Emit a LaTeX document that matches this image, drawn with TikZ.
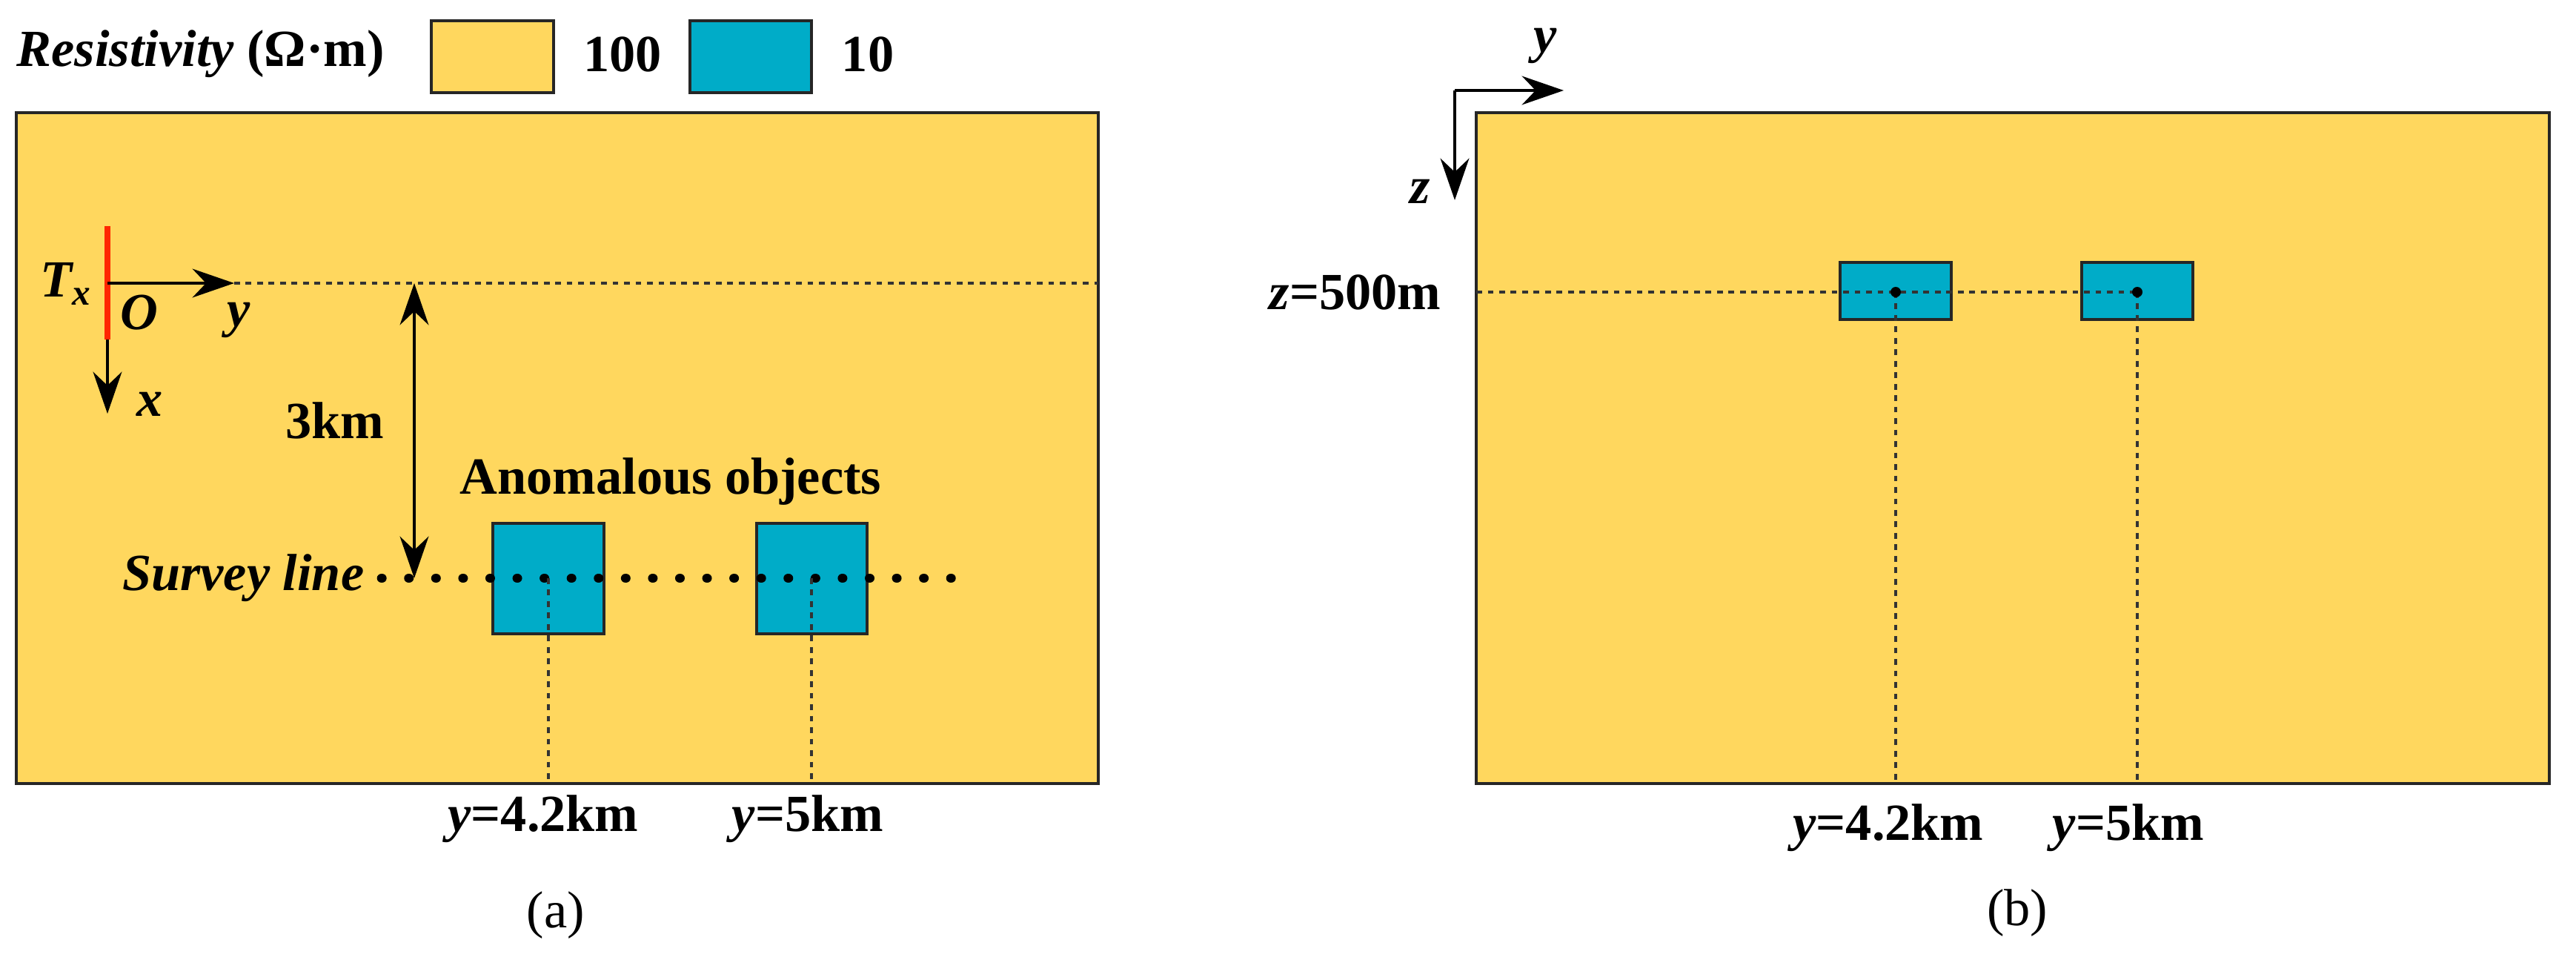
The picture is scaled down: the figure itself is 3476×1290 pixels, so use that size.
\documentclass[tikz,border=0pt]{standalone}
\usepackage{fontspec}
\setmainfont{Liberation Serif}
\usetikzlibrary{arrows.meta}
\definecolor{bgy}{HTML}{FFD75E}
\definecolor{anb}{HTML}{00ACC8}
\begin{document}
\begin{tikzpicture}[x=0.01cm,y=-0.01cm,
  lbl/.style={font=\fontsize{20}{24}\selectfont\bfseries, inner sep=0pt},
  ilbl/.style={font=\fontsize{20}{24}\selectfont\bfseries\itshape, inner sep=0pt},
  box/.style={draw=black!85, line width=1.2pt},
  fdot/.style={line width=1.3pt, dash pattern=on 2.2pt off 2.2pt, black!80},
  arr/.style={line width=1.3pt, -{Stealth[length=16pt,width=11pt]}},
  darr/.style={line width=1.3pt, {Stealth[length=16pt,width=11pt]}-{Stealth[length=16pt,width=11pt]}}]
\useasboundingbox (0,0) rectangle (3476,1290);
% legend
\node[ilbl, anchor=west] (leg) at (22,73) {Resistivity \upshape(Ω·m)};
\draw[box, fill=bgy] (582,28) rectangle (747,125);
\node[lbl] (l100) at (840,73) {100};
\draw[box, fill=anb] (931,28) rectangle (1095,125);
\node[lbl] (l10) at (1171,73) {10};
% panel a
\draw[box, fill=bgy] (22,152) rectangle (1482,1057);
\draw[box, fill=anb] (665,706) rectangle (815,855);
\draw[box, fill=anb] (1021,706) rectangle (1170,855);
\coordinate (O) at (145,382);
\coordinate (Ry) at (316,382);
\coordinate (Re) at (1482,382);
\coordinate (Dx) at (145,558);
\draw[red!70!orange, line width=2pt] (145,305) -- (145,458);
\draw[arr] (O) -- (Ry);
\draw[arr] (145,458) -- (Dx);
\draw[fdot] (Ry) -- (Re);
\coordinate (Sa) at (515,780);
\coordinate (Sb) at (1312,780);
\draw[line width=3.6pt, line cap=round, dash pattern=on 0.1pt off 10.3pt] (Sa) -- (Sb);
\coordinate (Dt) at (559,382);
\coordinate (Db) at (559,780);
\draw[darr] (Dt) -- (Db);
\draw[fdot] (740,780) -- (740,1057);
\draw[fdot] (1095,780) -- (1095,1057);
\node[ilbl] (tx) at (88,383) {T\raisebox{-0.35ex}{\fontsize{14}{16}\selectfont x}};
\node[ilbl] (o) at (188,422) {O};
\node[ilbl] (yl) at (322,432) {y};
\node[ilbl] (xl) at (202,545) {x};
\node[lbl] (km3) at (452,567) {3km};
\node[lbl, anchor=west] (anom) at (620,650) {Anomalous objects};
\node[ilbl, anchor=east] (sl) at (492,780) {Survey line};
\node[lbl] (ya1) at (733,1105) {\itshape y\upshape=4.2km};
\node[lbl] (ya2) at (1090,1105) {\itshape y\upshape=5km};
\node[font=\fontsize{20}{24}\selectfont, inner sep=0pt] (ca) at (750,1235) {(a)};
% panel b
\draw[box, fill=bgy] (1992,152) rectangle (3440,1057);
\draw[box, fill=anb] (2483,354) rectangle (2633,431);
\draw[box, fill=anb] (2809,354) rectangle (2959,431);
\coordinate (P1) at (2558,394);
\coordinate (P2) at (2884,394);
\draw[fdot] (1992,394) -- (P2);
\draw[fdot] (P1) -- (2558,1057);
\draw[fdot] (P2) -- (2884,1057);
\fill (P1) circle (7);
\fill (P2) circle (7);
\coordinate (C) at (1963,122);
\draw[arr] (C) -- (2110,122);
\draw[arr] (C) -- (1963,270);
\node[ilbl] (yb) at (2085,62) {y};
\node[ilbl] (zb) at (1916,258) {z};
\node[lbl, anchor=east] (z500) at (1945,394) {\itshape z\upshape=500m};
\node[lbl] (yb1) at (2548,1117) {\itshape y\upshape=4.2km};
\node[lbl] (yb2) at (2872,1117) {\itshape y\upshape=5km};
\node[font=\fontsize{20}{24}\selectfont, inner sep=0pt] (cb) at (2722,1232) {(b)};
\end{tikzpicture}
\end{document}
